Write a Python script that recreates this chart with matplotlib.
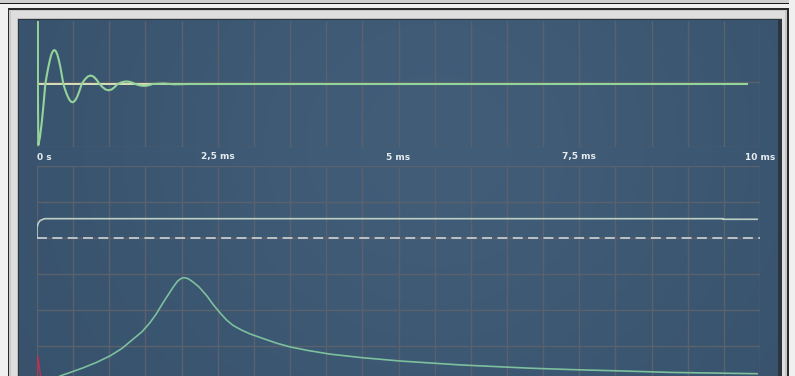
import matplotlib
matplotlib.use("Agg")
import matplotlib.pyplot as plt
import numpy as np
from matplotlib.patches import Rectangle
from matplotlib.transforms import blended_transform_factory

W, H = 795, 376

# impulse response, time in ms, amplitude normalised to the upper panel
imp_t = [0.0, 0.006, 0.018, 0.04, 0.065, 0.09, 0.115, 0.136, 0.157, 0.178,
         0.198, 0.219, 0.240, 0.261, 0.281, 0.302, 0.323, 0.343, 0.364,
         0.385, 0.406, 0.428, 0.449, 0.470, 0.491, 0.512, 0.533, 0.555,
         0.576, 0.597, 0.618, 0.659, 0.700, 0.741, 0.783, 0.824, 0.865,
         0.907, 0.948, 0.990, 1.032, 1.073, 1.115, 1.156, 1.197, 1.238,
         1.279, 1.320, 1.36, 1.40, 1.44, 1.48, 1.52, 1.56, 1.60, 1.75, 1.90,
         2.10, 9.82]
imp_v = [0.0, 1.05, -0.97, -0.85, -0.62, -0.33, 0.0, 0.14, 0.27, 0.38,
         0.468, 0.52, 0.54, 0.52, 0.468, 0.38, 0.27, 0.14, 0.0,
         -0.075, -0.145, -0.205, -0.251, -0.28, -0.29, -0.28, -0.251, -0.205,
         -0.145, -0.075, 0.0, 0.068, 0.117, 0.135, 0.117, 0.068, 0.0,
         -0.05, -0.087, -0.10, -0.087, -0.05, 0.0, 0.02, 0.035, 0.04,
         0.035, 0.02, 0.0, -0.015, -0.026, -0.03, -0.026, -0.015, 0.0, 0.008,
         -0.005, 0.0, 0.0]
zero_end = 9.82

time_ticks = [0, 2.5, 5, 7.5, 10]
time_labels = ["0 s", "2,5 ms", "5 ms", "7,5 ms", "10 ms"]

# magnitude response, frequency in kHz, level in dB
fr_f = [0.20, 0.318, 0.45, 0.636, 0.82, 1.01, 1.17, 1.33, 1.45, 1.56, 1.65,
        1.74, 1.81, 1.88, 1.94, 1.98, 2.02, 2.06, 2.10, 2.16, 2.24, 2.35,
        2.44, 2.53, 2.62, 2.71, 2.83, 2.95, 3.15, 3.32, 3.50, 3.75, 4.05,
        4.50, 5.02, 5.85, 6.82, 7.44, 8.06, 8.76, 9.96]
fr_db = [-24.0, -23.05, -22.5, -21.7, -20.8, -19.7, -18.5, -16.9, -15.7,
         -14.2, -12.7, -10.9, -9.6, -8.3, -7.3, -6.9, -6.67, -6.7, -6.9,
         -7.4, -8.2, -9.7, -11.2, -12.5, -13.7, -14.6, -15.4, -16.05, -16.9,
         -17.6, -18.2, -18.8, -19.4, -20.0, -20.55, -21.2, -21.75, -22.0,
         -22.2, -22.45, -22.67]

# filter envelope (solid) with rounded low end
env_f = [0.0, 0.0, 0.014, 0.041, 0.083, 0.11, 9.49, 9.49, 9.96]
env_db = [0.0, 1.67, 2.37, 2.83, 3.08, 3.17, 3.17, 3.07, 3.07]

# reference level (dashed)
ref_f = [0.0, 10.0]
ref_db = [0.0, 0.0]

# low-frequency spike (red)
spk_f = [0.0, 0.01, 0.06]
spk_db = [-24.0, -19.7, -24.0]

GRID = "#59626c"


def px_axes(fig, x0, y0, x1, y1):
    """Axes placed by pixel box (top-left origin)."""
    return fig.add_axes([x0 / W, 1 - y1 / H, (x1 - x0) / W, (y1 - y0) / H])


fig = plt.figure(figsize=(W / 100, H / 100), dpi=100)
fig.patch.set_facecolor("#f0f0f0")

bg = fig.add_axes([0, 0, 1, 1])
bg.set_xlim(0, W)
bg.set_ylim(H, 0)
bg.axis("off")

# strip of the panel above
bg.add_patch(Rectangle((-5, -5), 794, 8, fc="#cfcfcf", ec="none"))
bg.add_patch(Rectangle((-5, 2.5), 794, 1.2, fc="#1a1a1a", ec="none"))

# bevelled frame
bg.add_patch(Rectangle((7.5, 8), 781, 380, fc="#2a2a2a", ec="none"))
bg.add_patch(Rectangle((9, 9.5), 778, 380, fc="#c8c8c8", ec="none"))
bg.add_patch(Rectangle((11, 11), 774, 380, fc="#dedede", ec="none"))
bg.add_patch(Rectangle((16.5, 18), 765, 380, fc="#bdbdbd", ec="none"))
bg.add_patch(Rectangle((17.5, 19), 764, 380, fc="#2c3640", ec="none"))

# blue panel with a soft glow
ny, nx = 120, 250
yy, xx = np.mgrid[0:ny, 0:nx]
gx = xx / (nx - 1)
gy = yy / (ny - 1)
glow = np.exp(-(((gx - 0.55) / 0.45) ** 2 + ((gy - 0.35) / 0.9) ** 2))
base = np.array([0.215, 0.318, 0.420])
lift = np.array([0.040, 0.045, 0.050])
img = base[None, None, :] + glow[..., None] * lift[None, None, :]
bg.imshow(img, extent=(19, 778, H, 20), aspect="auto", zorder=1,
          interpolation="bilinear")

# ---- impulse response ----
ax1 = px_axes(fig, 37, 21, 760, 147)
ax1.set_xlim(0, 10)
ax1.set_ylim(-1, 1)
ax1.patch.set_alpha(0)
for s in ax1.spines.values():
    s.set_visible(False)
ax1.set_xticks([])
ax1.set_yticks([])
for t in np.arange(0, 10.01, 0.5):
    ax1.axvline(t, color=GRID, lw=1.0, zorder=1)
ax1.axhline(-1, color=GRID, lw=1.0, zorder=1)
ax1.axhline(0.03, color=GRID, lw=1.0, zorder=1)
ax1.plot([0, zero_end], [0, 0], color="#e4ebbf", lw=1.3, zorder=2)
ax1.plot(imp_t, imp_v, color="#94d49a", lw=1.5, zorder=3,
         solid_joinstyle="round")

trans = blended_transform_factory(ax1.transData, ax1.transAxes)
for t, lab in zip(time_ticks, time_labels):
    ax1.text(t, -10 / 126, lab, transform=trans, fontsize=6.5,
             color="#e6ecf0", ha="left" if t == 0 else "center",
             va="center", clip_on=False, fontweight="bold")

# ---- magnitude response ----
ax2 = px_axes(fig, 37, 165.7, 760, 376)
ax2.set_xlim(0, 10)
ax2.set_ylim(-23.05, 12)
ax2.patch.set_alpha(0)
for s in ax2.spines.values():
    s.set_visible(False)
ax2.set_xticks([])
ax2.set_yticks([])
for f in np.arange(0, 10.01, 0.5):
    ax2.axvline(f, color=GRID, lw=1.0, zorder=1)
for d in range(-18, 13, 6):
    ax2.axhline(d, color=GRID, lw=1.0, zorder=1)

ax2.plot(ref_f, ref_db, color="#c3cbcf", lw=1.3, ls=(0, (5.5, 3)), zorder=2)
ax2.plot(env_f, env_db, color="#bccfc4", lw=1.2, zorder=3)
ax2.plot(fr_f, fr_db, color="#7cc09e", lw=1.2, zorder=3,
         solid_joinstyle="round")
ax2.plot(spk_f, spk_db, color="#b8334f", lw=1.1, zorder=3)

fig.savefig("out.png", dpi=100, facecolor=fig.get_facecolor())
